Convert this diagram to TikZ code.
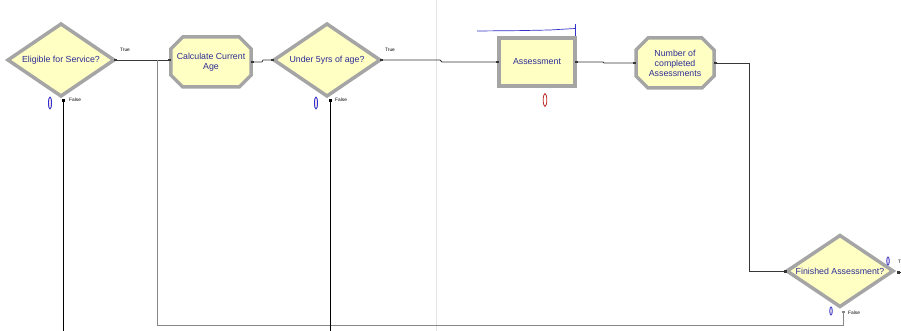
\documentclass[tikz,border=0pt]{standalone}
\usepackage{fontspec}
\setmainfont{Liberation Sans}
\usetikzlibrary{shapes.geometric,shapes.misc,arrows.meta}
\definecolor{fillY}{RGB}{255,255,196}
\definecolor{bord}{RGB}{165,165,165}
\definecolor{txtB}{RGB}{45,45,150}
\definecolor{lineG}{RGB}{55,55,55}
\definecolor{loopG}{RGB}{135,135,135}
\definecolor{sepG}{RGB}{228,228,228}
\definecolor{ovB}{RGB}{50,50,200}
\definecolor{ovR}{RGB}{190,40,40}
\begin{document}
\begin{tikzpicture}[x=1pt,y=-1pt,
 decide/.style={diamond, draw=bord, fill=fillY, line width=3.5pt, inner sep=0pt, outer sep=0pt, minimum width=106pt, minimum height=72pt},
 procbox/.style={rectangle, draw=bord, fill=fillY, line width=3.5pt, minimum width=76pt, minimum height=48pt, inner sep=0pt, outer sep=0pt, text=txtB, font=\fontsize{8.8}{10}\selectfont, align=center},
 recbox/.style={chamfered rectangle, chamfered rectangle xsep=6pt, chamfered rectangle ysep=6pt, draw=bord, fill=fillY, line width=3.5pt, minimum width=78pt, minimum height=50pt, inner sep=0pt, outer sep=0pt, text=txtB, font=\fontsize{8.8}{10}\selectfont, align=center},
 dtext/.style={text=txtB, font=\fontsize{8.8}{10}\selectfont, inner sep=0pt},
 tinylbl/.style={font=\fontsize{4.8}{5}\selectfont, inner sep=0pt, anchor=west},
 conn/.style={draw=lineG, line width=0.8pt},
 sqb/.style={{Square[length=2.6pt,width=2.6pt]}-{Square[length=2.6pt,width=2.6pt]}},
 sqe/.style={-{Square[length=2.6pt,width=2.6pt]}},
 sqs/.style={{Square[length=2.6pt,width=2.6pt]}-},
 ovalB/.style={draw=ovB, line width=0.8pt, fill=violet!15},
 ovalR/.style={draw=ovR, line width=0.8pt, fill=white}
]
\useasboundingbox (0,0) rectangle (901,331);
\fill[white] (0,0) rectangle (901,331);
% separator
\draw[sepG, line width=0.8pt] (436,0) -- (436,331);

% nodes
\node[decide, label={[dtext]center:Eligible for Service?}] (d1) at (61,60) {};
\node[recbox] (calc) at (211,62) {Calculate Current\\Age};
\node[decide, label={[dtext]center:Under 5yrs of age?}] (d2) at (327,60) {};
\node[procbox] (assess) at (537,62) {Assessment};
\node[recbox] (num) at (675,63) {Number of\\completed\\Assessments};
\node[decide, minimum height=71pt, label={[dtext]center:Finished Assessment?}] (d3) at (840,271) {};

% coordinates
\coordinate (j1) at (157,60);
\coordinate (bot1) at (63,331);
\coordinate (bot2) at (330,331);
\coordinate (tout) at (903,272);

% connectors
\draw[conn, sqb] (d1.east) -- (d1.east -| calc.west);
\draw[conn, sqb] (calc.east) -- (262,62) -- (263,60) -- (d2.west);
\draw[conn, sqb] (d2.east) -- (440,60) -- (442,62) -- (assess.west);
\draw[conn, sqb] (assess.east) -- (603,62) -- (604,63) -- (num.west);
\draw[conn, sqb] (num.east) -- (749,63) -- (749,271) -- (d3.west);
\draw[draw=loopG, line width=0.8pt, sqs] (d3.south) ++(3,4) -- (843,325) -- (157,325) -- (j1);
\draw[draw=black, line width=0.8pt, sqe] (bot1) -- (63,99);
\draw[draw=black, line width=0.8pt, sqe] (bot2) -- (330,99);
\draw[conn, sqs] (d3.east) ++(4,1) -- (tout);

% queue line above Assessment
\draw[ovB, line width=0.7pt] (477,31) -- (520,30.6) -- (550,30) -- (575,28.5);
\draw[ovB, line width=0.7pt] (575,24) -- (575,36);

% labels
\node[tinylbl] (t1) at (120,50) {True};
\node[tinylbl] (f1) at (69,100) {False};
\node[tinylbl] (t2) at (385,50) {True};
\node[tinylbl] (f2) at (335,100) {False};
\node[tinylbl] (t3) at (898,262) {T};
\node[tinylbl] (f3) at (848,313) {False};

% counters
\draw[ovalB] (50,103) ellipse (1.6 and 6);
\draw[ovalB] (316,103) ellipse (1.6 and 6);
\draw[ovalR] (545,100) ellipse (1.8 and 6.5);
\draw[ovalB] (888,261) ellipse (1.3 and 4);
\draw[ovalB] (831,311) ellipse (1.3 and 4);
\end{tikzpicture}
\end{document}
